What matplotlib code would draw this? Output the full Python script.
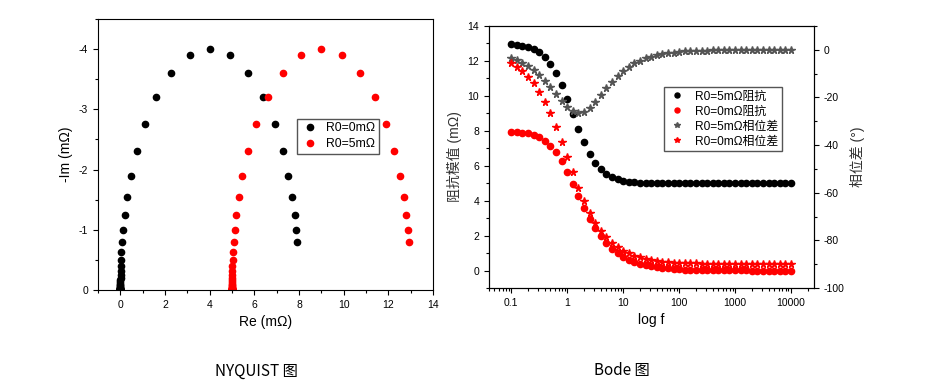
import matplotlib
matplotlib.use('Agg')
import matplotlib.pyplot as plt
from matplotlib.ticker import MultipleLocator, LogLocator, NullFormatter

plt.rcParams['font.family'] = ['Liberation Sans', 'Noto Sans CJK SC']
plt.rcParams['axes.unicode_minus'] = False

# frequency points (Hz), 10 per decade
freq = [0.1, 0.126, 0.158, 0.2, 0.251, 0.316, 0.398, 0.501, 0.631, 0.794,
        1, 1.26, 1.58, 2, 2.51, 3.16, 3.98, 5.01, 6.31, 7.94,
        10, 12.6, 15.8, 20, 25.1, 31.6, 39.8, 50.1, 63.1, 79.4,
        100, 126, 158, 200, 251, 316, 398, 501, 631, 794,
        1000, 1259, 1585, 1995, 2512, 3162, 3981, 5012, 6310, 7943, 10000]

# Bode: impedance magnitude (mOhm)
z_mag_r5 = [12.95, 12.91, 12.86, 12.79, 12.67, 12.49, 12.22, 11.84, 11.31, 10.64,
            9.85, 8.98, 8.12, 7.34, 6.69, 6.17, 5.79, 5.52, 5.34, 5.22,
            5.14, 5.09, 5.06, 5.04, 5.02, 5.01, 5.01, 5.01, 5.00, 5.00,
            5.00, 5.00, 5.00, 5.00, 5.00, 5.00, 5.00, 5.00, 5.00, 5.00,
            5.00, 5.00, 5.00, 5.00, 5.00, 5.00, 5.00, 5.00, 5.00, 5.00, 5.00]
z_mag_r0 = [7.96, 7.94, 7.90, 7.85, 7.76, 7.63, 7.43, 7.15, 6.77, 6.26,
            5.66, 4.98, 4.27, 3.59, 2.96, 2.41, 1.95, 1.57, 1.25, 1.00,
            0.80, 0.63, 0.50, 0.40, 0.32, 0.25, 0.20, 0.16, 0.13, 0.10,
            0.08, 0.06, 0.05, 0.04, 0.03, 0.03, 0.02, 0.02, 0.01, 0.01,
            0.01, 0.01, 0.01, 0.00, 0.00, 0.00, 0.00, 0.00, 0.00, 0.00, 0.00]

# Bode: phase (deg)
phase_r5 = [-3.5, -4.4, -5.5, -6.9, -8.6, -10.6, -13.0, -15.7, -18.6, -21.5,
            -24.0, -25.7, -26.4, -25.9, -24.3, -21.9, -19.0, -16.1, -13.4, -10.9,
            -8.9, -7.1, -5.7, -4.6, -3.6, -2.9, -2.3, -1.8, -1.5, -1.2,
            -0.9, -0.7, -0.6, -0.5, -0.4, -0.3, -0.2, -0.2, -0.2, -0.1,
            -0.1, -0.1, -0.1, 0, 0, 0, 0, 0, 0, 0, 0]
phase_r0 = [-5.7, -7.2, -9.0, -11.3, -14.1, -17.5, -21.7, -26.6, -32.3, -38.5,
            -45.0, -51.5, -57.8, -63.4, -68.3, -72.5, -75.9, -78.7, -81.0, -82.8,
            -84.3, -85.5, -86.4, -87.1, -87.7, -88.2, -88.6, -88.9, -89.1, -89.3,
            -89.4, -89.5, -89.6, -89.7, -89.8, -89.8, -89.9, -89.9, -89.9, -89.9,
            -89.9, -90, -90, -90, -90, -90, -90, -90, -90, -90, -90]

# Nyquist: real part (mOhm)
re_r0 = [7.92, 7.88, 7.80, 7.69, 7.53, 7.27, 6.91, 6.39, 5.72, 4.91,
         4.00, 3.10, 2.28, 1.61, 1.09, 0.73, 0.47, 0.31, 0.20, 0.12,
         0.08, 0.05, 0.03, 0.02, 0.01, 0.01, 0.01, 0.00, 0.00, 0.00,
         0.00, 0.00, 0.00, 0.00, 0.00, 0.00, 0.00, 0.00, 0.00, 0.00,
         0.00, 0.00, 0.00, 0.00, 0.00, 0.00, 0.00, 0.00, 0.00, 0.00, 0.00]
re_r5 = [12.92, 12.88, 12.80, 12.69, 12.53, 12.27, 11.91, 11.39, 10.72, 9.91,
         9.00, 8.10, 7.28, 6.61, 6.09, 5.73, 5.47, 5.31, 5.20, 5.12,
         5.08, 5.05, 5.03, 5.02, 5.01, 5.01, 5.01, 5.00, 5.00, 5.00,
         5.00, 5.00, 5.00, 5.00, 5.00, 5.00, 5.00, 5.00, 5.00, 5.00,
         5.00, 5.00, 5.00, 5.00, 5.00, 5.00, 5.00, 5.00, 5.00, 5.00, 5.00]
# Nyquist: imaginary part (mOhm), same for both
im_z = [-0.79, -0.99, -1.24, -1.54, -1.89, -2.30, -2.75, -3.21, -3.61, -3.90,
        -4.00, -3.90, -3.61, -3.21, -2.75, -2.30, -1.89, -1.54, -1.24, -0.99,
        -0.79, -0.63, -0.50, -0.40, -0.32, -0.25, -0.20, -0.16, -0.13, -0.10,
        -0.08, -0.06, -0.05, -0.04, -0.03, -0.03, -0.02, -0.02, -0.01, -0.01,
        -0.01, -0.01, -0.01, 0, 0, 0, 0, 0, 0, 0, 0]

fig = plt.figure(figsize=(9.27, 3.9), dpi=100)

tick_kw = dict(direction='out', labelsize=7.5, width=0.8)

# ---- Nyquist plot ----
ax1 = fig.add_axes([0.1057, 0.2564, 0.3614, 0.6949])
ax1.plot(re_r0, im_z, 'o', color='black', ms=4.5, label='R0=0mΩ')
ax1.plot(re_r5, im_z, 'o', color='red', ms=4.5, label='R0=5mΩ')
ax1.set_xlim(-1, 14)
ax1.set_ylim(0, -4.5)
ax1.xaxis.set_major_locator(MultipleLocator(2))
ax1.xaxis.set_minor_locator(MultipleLocator(1))
ax1.yaxis.set_major_locator(MultipleLocator(1))
ax1.yaxis.set_minor_locator(MultipleLocator(0.5))
ax1.tick_params(which='major', length=3.5, **tick_kw)
ax1.tick_params(which='minor', length=2, direction='out', width=0.8)
ax1.set_xlabel('Re (mΩ)', fontsize=10)
ax1.set_ylabel('-Im (mΩ)', fontsize=10)
ax1.legend(loc='upper left', bbox_to_anchor=(0.576, 0.655), fontsize=8.8,
           frameon=True, fancybox=False, edgecolor='#555555', framealpha=1,
           handletextpad=0.6, labelspacing=0.3, borderpad=0.3, handlelength=1.5)

# ---- Bode plot ----
ax2 = fig.add_axes([0.5275, 0.2615, 0.3506, 0.6718])
ax3 = ax2.twinx()
l1, = ax2.plot(freq, z_mag_r5, 'o', color='black', ms=4.5, label='R0=5mΩ阻抗')
l2, = ax2.plot(freq, z_mag_r0, 'o', color='red', ms=4.5, label='R0=0mΩ阻抗')
l3, = ax3.plot(freq, phase_r5, '*', color='#555555', ms=5.5, label='R0=5mΩ相位差')
l4, = ax3.plot(freq, phase_r0, '*', color='red', ms=5.5, label='R0=0mΩ相位差')
ax2.set_xscale('log')
ax2.set_xlim(0.04, 25700)
ax2.set_ylim(-1, 14)
ax3.set_ylim(-100, 10)
ax2.set_xticks([0.1, 1, 10, 100, 1000, 10000])
ax2.set_xticklabels(['0.1', '1', '10', '100', '1000', '10000'])
ax2.xaxis.set_minor_locator(LogLocator(base=10, subs=range(2, 10), numticks=20))
ax2.xaxis.set_minor_formatter(NullFormatter())
ax2.yaxis.set_major_locator(MultipleLocator(2))
ax2.yaxis.set_minor_locator(MultipleLocator(1))
ax3.yaxis.set_major_locator(MultipleLocator(20))
ax3.yaxis.set_minor_locator(MultipleLocator(10))
for a in (ax2, ax3):
    a.tick_params(which='major', length=3.5, **tick_kw)
    a.tick_params(which='minor', length=2, direction='out', width=0.8)
ax2.set_xlabel('log f', fontsize=10)
ax2.set_ylabel('阻抗模值 (mΩ)', fontsize=10, color='#333333')
ax3.set_ylabel('相位差 (°)', fontsize=10, color='#333333')
ax3.legend(handles=[l1, l2, l3, l4], loc='upper left', bbox_to_anchor=(0.52, 0.79),
           fontsize=8.6, frameon=True, fancybox=False, edgecolor='#555555',
           framealpha=1, handletextpad=0.8, labelspacing=0.25, borderpad=0.3,
           handlelength=1.5, markerscale=0.8)

# captions
fig.text(256 / 927, 1 - 371 / 390, 'NYQUIST 图', ha='center', va='center',
         fontsize=11, family=['Noto Sans CJK SC'])
fig.text(622 / 927, 1 - 371 / 390, 'Bode 图', ha='center', va='center',
         fontsize=11, family=['Noto Sans CJK SC'])

fig.savefig('out.png', dpi=100)
